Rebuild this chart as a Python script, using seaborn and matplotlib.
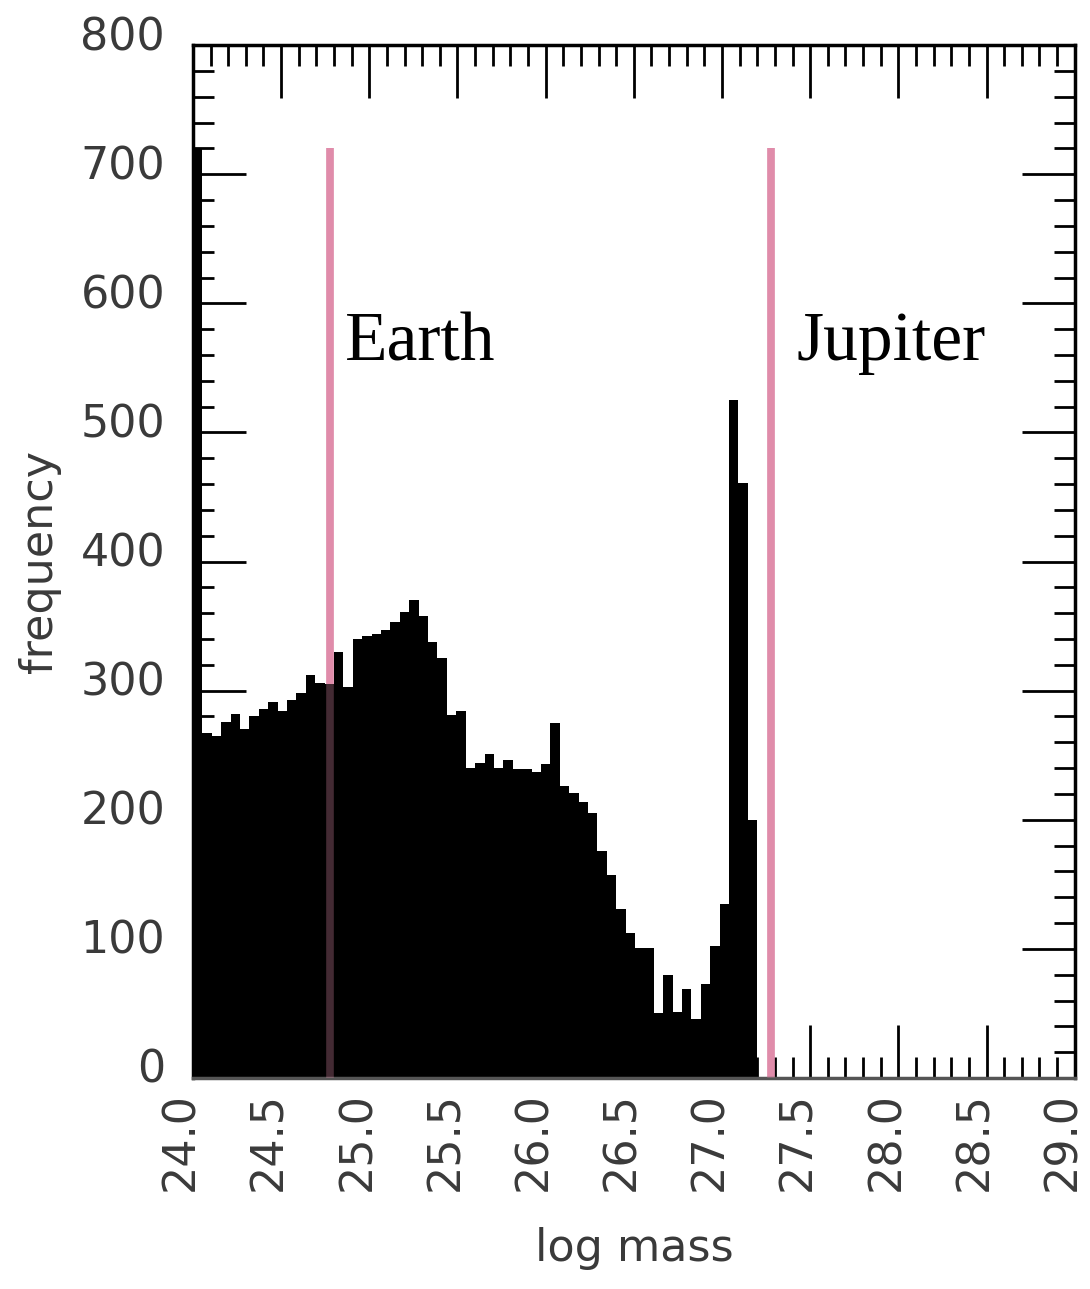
import numpy as np
import pandas as pd
import seaborn as sns
import matplotlib.pyplot as plt
import matplotlib.transforms as mtransforms
from matplotlib.ticker import MultipleLocator, FormatStrFormatter

# histogram of log mass, 60 bins from 24.0 to 27.2
bin_lo = 24.0
bin_hi = 27.2
counts = [720, 267, 265, 276, 282, 270, 280, 286, 291, 284,
          293, 298, 312, 306, 305, 330, 303, 340, 342, 344,
          347, 353, 361, 370, 358, 338, 325, 281, 284, 240,
          244, 251, 240, 246, 239, 239, 237, 243, 275, 226,
          221, 214, 205, 176, 157, 131, 112, 101, 101, 50,
          80, 51, 69, 46, 73, 102, 135, 525, 461, 200]

# reference planets (log10 of mass in kg)
planets = ["Earth", "Jupiter"]
planet_logm = [24.78, 27.28]
line_top = 720
label_x = [24.86, 27.42]
label_y = 556

edges = np.linspace(bin_lo, bin_hi, len(counts) + 1)
df = pd.DataFrame({"logm": (edges[:-1] + edges[1:]) / 2, "n": counts})

sns.set_style("ticks")
plt.rcParams["font.family"] = ["DejaVu Sans"]
grey = "#3a3a3a"
pink = "#E08CAA"

fig = plt.figure(figsize=(10.9, 12.89), dpi=100)
ax = fig.add_axes([0.177, 0.1637, 0.809, 0.8013])

# pink lines go under the bars, then a faint copy on top
for m in planet_logm:
    ax.vlines(m, 0, line_top, color=pink, lw=5.5, zorder=1)

# bins as a plain list (seaborn compares it with "auto" when weights are used)
sns.histplot(data=df, x="logm", weights="n", bins=edges.tolist(), element="step",
             fill=True, color="black", alpha=1, linewidth=0, ax=ax, zorder=2)

for m in planet_logm:
    ax.vlines(m, 0, line_top, color=pink, lw=5.5, alpha=0.3, zorder=3)

for name, lx in zip(planets, label_x):
    ax.text(lx, label_y, name, fontsize=50, family="Liberation Serif",
            color="black", va="baseline", ha="left", zorder=4)

ax.xaxis.set_major_locator(MultipleLocator(0.5))
ax.xaxis.set_minor_locator(MultipleLocator(0.1))
ax.xaxis.set_major_formatter(FormatStrFormatter("%.1f"))
ax.yaxis.set_major_locator(MultipleLocator(100))
ax.yaxis.set_minor_locator(MultipleLocator(20))
ax.set_xlim(24.0, 29.0)
ax.set_ylim(0, 800)

ax.tick_params(which="both", direction="in", top=True, right=True,
               color="black", width=2.0)
ax.tick_params(which="major", length=38, labelsize=32, labelcolor=grey)
ax.tick_params(which="minor", length=15)
ax.tick_params(axis="x", which="major", pad=10, labelrotation=90)
ax.tick_params(axis="y", which="major", pad=20)

# nudge tick labels like the original device font
dx = mtransforms.ScaledTranslation(-12 / 100, 0, fig.dpi_scale_trans)
for lab in ax.get_xticklabels():
    lab.set_transform(lab.get_transform() + dx)
dy = mtransforms.ScaledTranslation(0, 12 / 100, fig.dpi_scale_trans)
for lab in ax.get_yticklabels():
    lab.set_transform(lab.get_transform() + dy)

for s in ax.spines.values():
    s.set_linewidth(2.5)
    s.set_color("black")
ax.spines["bottom"].set_color("#555555")

ax.set_xlabel("log mass", fontsize=32, color=grey, labelpad=26)
ax.set_ylabel("frequency", fontsize=32, color=grey, labelpad=14)

fig.savefig("out.png", dpi=100, facecolor="white")
